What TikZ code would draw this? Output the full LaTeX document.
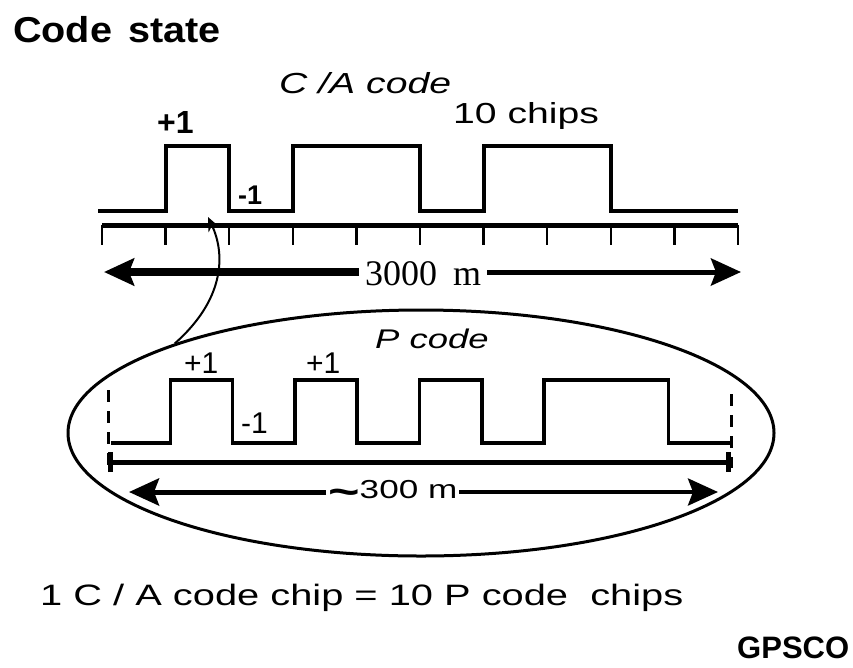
\documentclass[tikz,border=0pt]{standalone}
\usepackage{fontspec}
\setmainfont{Liberation Sans}
\newfontfamily\widefont[FakeStretch=1.35]{Liberation Sans}
\newfontfamily\titlefont[FakeStretch=1.1]{Liberation Sans}
\newfontfamily\rulerfont{Liberation Serif}
\usetikzlibrary{arrows.meta, positioning, shapes.geometric}
\tikzset{
  wave/.style={
    line width=4pt,
    line join=miter
  },
  tickmark/.style={
    line width=2.5pt
  },
  txt/.style={
    inner sep=0pt,
    anchor=base west
  },
  boldtxt/.style={
    txt,
    font=\bfseries\fontsize{#1}{#1}\selectfont
  },
  plaintxt/.style={
    txt,
    font=\fontsize{#1}{#1}\selectfont
  },
  widetxt/.style={
    txt,
    font=\widefont\fontsize{#1}{#1}\selectfont
  },
  italtxt/.style={
    txt,
    font=\widefont\itshape\fontsize{#1}{#1}\selectfont
  },
  bigtip/.style={
    -{Stealth[length=30pt,width=27pt,inset=5pt]}
  }
}

\begin{document}
\begin{tikzpicture}[x=1pt, y=-1pt]
\useasboundingbox (0,0) rectangle (853,667);

% --- Titre ---
\node[txt, font=\titlefont\bfseries\fontsize{36}{36}\selectfont] (title) at (13,42) {Code\hspace{16pt}state};

% --- Code C/A ---
\node[italtxt=29] (calbl) at (279,93) {C /A code};
\node[widetxt=29] (chips) at (453,123) {10 chips};
\node[boldtxt=32] (caplus) at (157,133) {+1};
\node[boldtxt=27] (caminus) at (238,204) {-1};

\draw[wave] (98,211) -- (165.6,211) -- (165.6,146) -- (229.2,146) -- (229.2,211)
  -- (292.8,211) -- (292.8,146) -- (420,146) -- (420,211) -- (483.6,211)
  -- (483.6,146) -- (610.8,146) -- (610.8,211) -- (738,211);

% --- Regle 10 chips ---
\draw[line width=5pt] (102,225) -- (738,225);
\foreach \i in {0,...,10}
  \draw[tickmark] (102+63.6*\i,225) -- (102+63.6*\i,245);

% --- Fleche 3000 m ---
\coordinate (ca-l) at (104,272);
\coordinate (ca-r) at (741,272);
\node[txt, font=\rulerfont\fontsize{36}{36}\selectfont, inner xsep=6pt] (t3000) at (359,285) {3000\hspace{16pt}m};
\draw[line width=8pt, bigtip] (t3000.west |- ca-l) -- (ca-l);
\draw[line width=5pt, bigtip] (t3000.east |- ca-r) -- (ca-r);

% --- Code P ---
\node[draw, ellipse, line width=3pt, minimum width=706pt, minimum height=246pt, inner sep=0pt] (pell) at (421,433) {};
\node[italtxt=27] (plbl) at (375,348) {P code};
\node[plaintxt=30] (pplus1) at (184,373) {+1};
\node[plaintxt=30] (pplus2) at (306,373) {+1};
\node[plaintxt=30] (pminus) at (241,433) {-1};

\draw[wave, line width=3.5pt] (111,443) -- (170.3,443) -- (170.3,380) -- (232.6,380) -- (232.6,443)
  -- (294.9,443) -- (294.9,380) -- (357.2,380) -- (357.2,443) -- (419.5,443)
  -- (419.5,380) -- (481.8,380) -- (481.8,443) -- (544.1,443) -- (544.1,380)
  -- (668.7,380) -- (668.7,443) -- (731,443);

\draw[line width=3pt, dash pattern=on 12pt off 9pt] (108,390) -- (108,468);
\draw[line width=3pt, dash pattern=on 12pt off 9pt] (731,394) -- (731,468);
\draw[line width=5pt, {Bar[width=20pt]}-{Bar[width=20pt]}] (108,462) -- (731,462);

% --- Fleche ~300 m ---
\coordinate (p-l) at (129,492);
\coordinate (p-r) at (718,492);
\node[widetxt=26, inner xsep=2pt] (t300) at (326,498) {\raisebox{-7pt}{\bfseries\fontsize{40}{40}\selectfont\textasciitilde}300 m};
\draw[line width=5pt, bigtip] (t300.west |- p-l) -- (p-l);
\draw[line width=4pt, bigtip] (t300.east |- p-r) -- (p-r);

% --- Lien entre les deux codes ---
\coordinate (ca-hit) at (208,217);
\draw[line width=2pt, -{Stealth[length=14pt,width=12pt]}] (pell.160) .. controls (224,300) and (226,255) .. (ca-hit);

% --- Texte du bas ---
\node[widetxt=29.5] (note) at (40,605) {1 C / A code chip = 10 P code\ \ chips};
\node[boldtxt=31] (src) at (737,658) {GPSCO};

\end{tikzpicture}
\end{document}
